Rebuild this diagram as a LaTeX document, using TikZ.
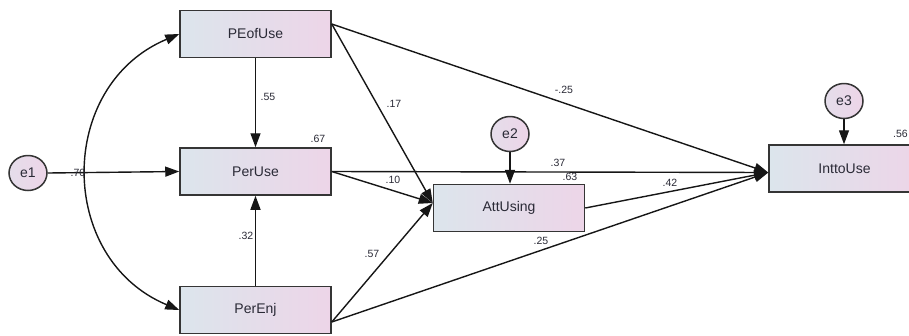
\documentclass[tikz,border=0pt]{standalone}
\usepackage{fontspec}
\setmainfont{Liberation Sans}
\usetikzlibrary{arrows.meta,shapes.geometric}
\definecolor{boxleft}{HTML}{DCE5EC}
\definecolor{boxright}{HTML}{EDD5E8}
\definecolor{edgeink}{HTML}{161616}
\definecolor{frame}{HTML}{353535}
\definecolor{ink}{HTML}{2A2A36}

\begin{document}
\begin{tikzpicture}[x=1pt,y=-1pt,
  var/.style={draw=frame,line width=1.5pt,left color=boxleft,right color=boxright,
    minimum width=151pt,minimum height=47pt,inner sep=0pt,
    font=\fontsize{14}{14}\selectfont,text=ink},
  err/.style={ellipse,draw=frame,line width=1.5pt,left color=boxleft!50!boxright,
    right color=boxright,minimum width=38pt,minimum height=35pt,inner sep=0pt,
    font=\fontsize{14}{14}\selectfont,text=ink},
  tip/.tip={Triangle[length=14pt,width=10pt]},
  reg/.style={draw=edgeink,line width=1.4pt,-tip},
  cov/.style={draw=edgeink,line width=1.4pt,tip-tip},
  coef/.style={font=\fontsize{10.5}{10.5}\selectfont,text=ink,inner sep=0pt}]

\useasboundingbox (0,0) rectangle (909,335);
\clip (0,0) rectangle (909,335);

% observed variables
\node[var] (peou) at (255.5,34)    {PEofUse};
\node[var] (pu)   at (255.5,171.5) {PerUse};
\node[var] (pe)   at (255.5,310)   {PerEnj};
\node[var] (att)  at (509,208)     {AttUsing};
\node[var] (itu)  at (844.5,168.5) {InttoUse};

% error terms
\node[err] (e1) at (28,173)  {e1};
\node[err] (e2) at (510,134) {e2};
\node[err] (e3) at (844,101) {e3};

% attachment points on the box sides
\coordinate (peouout) at ([yshift=10pt]peou.east);
\coordinate (peout)   at ([yshift=-12pt]pe.east);
\coordinate (attin)   at ([yshift=5pt]att.west);
\coordinate (ituin)   at ([yshift=-4pt]itu.west);

% correlation between exogenous variables
\draw[cov] (peou.west) .. controls +(-122.7,51.4) and +(-122.7,-51.4) .. (pe.west);

% regression paths
\draw[reg] (peou.south) -- (pu.north);
\draw[reg] (pe.north) -- (pu.south);
\draw[reg] (e1.east) -- (pu.west);
\draw[reg] (e2.south) -- (e2.south |- att.north);
\draw[reg] (e3.south) -- (e3.south |- itu.north);
\draw[reg] (peouout) -- (attin);
\draw[reg] (peouout) -- (ituin);
\draw[reg] (pu.east) -- (attin);
\draw[reg] (pu.east) -- (ituin);
\draw[reg] (peout) -- (attin);
\draw[reg] (peout) -- (ituin);
\draw[reg] (att.east) -- (ituin);

% coefficients
\node[coef] (c70) at (78,173)  {.70};
\node[coef] (c55) at (268,97)  {.55};
\node[coef] (c67) at (318,139) {.67};
\node[coef] (c32) at (246,236) {.32};
\node[coef] (c17) at (394,104) {.17};
\node[coef] (c25n) at (564,90) {-.25};
\node[coef] (c37) at (558,163) {.37};
\node[coef] (c63) at (570,177) {.63};
\node[coef] (c10) at (393,180) {.10};
\node[coef] (c42) at (670,183) {.42};
\node[coef] (c57) at (372,254) {.57};
\node[coef] (c25) at (541,241) {.25};
\node[coef,anchor=east] (c56) at (908,134) {.56};
\end{tikzpicture}
\end{document}
